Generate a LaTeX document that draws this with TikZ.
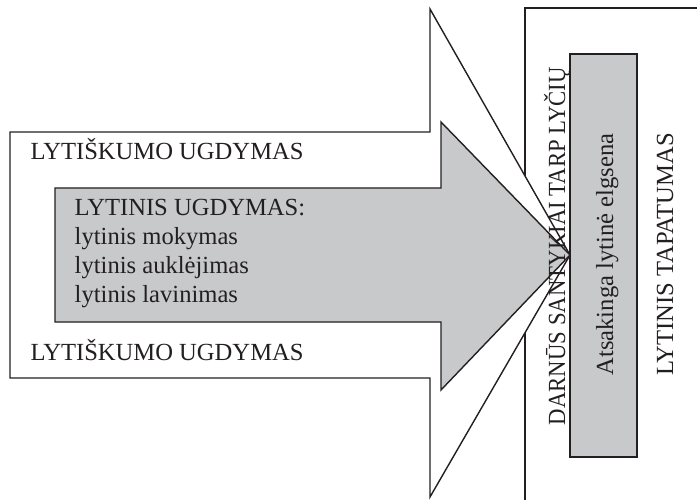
\documentclass[tikz,border=0pt]{standalone}
\usepackage{fontspec}
\setmainfont{Liberation Serif}
\definecolor{boxgray}{RGB}{200,201,203}
\definecolor{ink}{RGB}{35,31,32}
\begin{document}
\begin{tikzpicture}[x=1pt,y=-1pt,line width=1.4pt,line join=miter,
  shape line/.style={draw=ink},
  lbl/.style={inner sep=0pt,text=ink,font=\fontsize{24.6}{28.5}\selectfont},
  vlbl/.style={lbl,rotate=90,anchor=base}]
\useasboundingbox (0,0) rectangle (697,500);
\clip (0,0) rectangle (697,500);
% big right frame
\draw[shape line] (525,8) rectangle (710,512);
% outer white arrow
\draw[shape line,fill=white] (10,132) -- (430,132) -- (430,9) -- (570,255)
  -- (430,497) -- (430,378) -- (10,378) -- cycle;
% inner gray arrow
\draw[shape line,fill=boxgray] (55,188) -- (441,188) -- (441,122) -- (570,255)
  -- (441,390) -- (441,322) -- (55,322) -- cycle;
% gray box
\draw[shape line,fill=boxgray] (570,54) rectangle (637,457);
% texts
\node[lbl,anchor=base west] (lu1) at (30,160) {LYTIŠKUMO UGDYMAS};
\node[lbl,anchor=base west] (lu2) at (30,360) {LYTIŠKUMO UGDYMAS};
\node[lbl,anchor=base west] (g1) at (74,216) {LYTINIS UGDYMAS:};
\node[lbl,anchor=base west] (g2) at (74,245) {lytinis mokymas};
\node[lbl,anchor=base west] (g3) at (74,273.5) {lytinis auklėjimas};
\node[lbl,anchor=base west] (g4) at (74,302) {lytinis lavinimas};
\node[vlbl] (dar) at (565,246) {\scalebox{0.925}[1]{DARNŪS SANTYKIAI TARP LYČIŲ}};
\node[vlbl] (ats) at (613,254.5) {Atsakinga lytinė elgsena};
\node[vlbl] (tap) at (673,254.5) {LYTINIS TAPATUMAS};
\end{tikzpicture}
\end{document}
